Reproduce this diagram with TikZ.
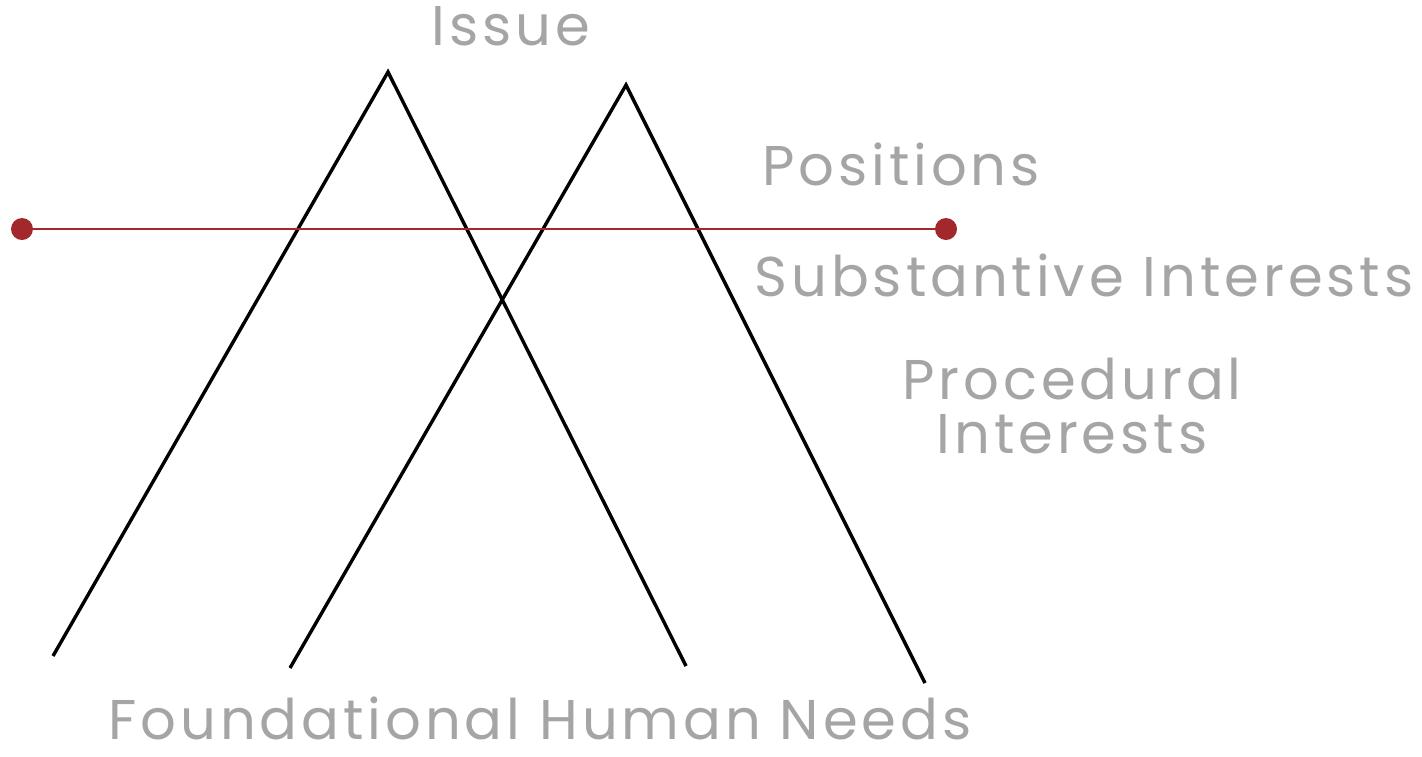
\documentclass[tikz,border=0pt]{standalone}
\usepackage{fontspec}
\setmainfont[LetterSpace=7]{Poppins}
\usetikzlibrary{positioning}
\definecolor{LevelGray}{HTML}{A5A5A5}
\definecolor{LineRed}{HTML}{A3282C}

\begin{document}
\begin{tikzpicture}[x=0.5pt, y=-0.5pt,
  level/.style={text=LevelGray, font=\fontsize{28}{32}\selectfont, anchor=base, inner sep=0pt},
  peak/.style={line width=1.7pt, black},
  knob/.style={circle, fill=LineRed, inner sep=0pt, minimum size=11pt}]
  \useasboundingbox (0,0) rectangle (1422,756);
  % the two overlapping cones
  \coordinate (apexA) at (388,72);
  \coordinate (footAl) at (53,656);
  \coordinate (footAr) at (686,666);
  \coordinate (apexB) at (626,85);
  \coordinate (footBl) at (290,668);
  \coordinate (footBr) at (925,683);
  \draw[peak] (footAl) -- (apexA) -- (footAr);
  \draw[peak] (footBl) -- (apexB) -- (footBr);
  % the red level line
  \node[knob] (knobL) at (22,229) {};
  \node[knob] (knobR) at (946,229) {};
  \draw[LineRed, line width=1pt] (knobL) -- (knobR);
  % labels
  \node[level] (issue) at (511,45) {Issue};
  \node[level] (positions) at (901,185) {Positions};
  \node[level] (substantive) at (1084,296) {Substantive Interests};
  \node[level] (procedural) at (1072,399) {Procedural};
  \node[level] (procedural2) at (1072,453) {Interests};
  \node[level] (needs) at (540,739) {Foundational Human Needs};
\end{tikzpicture}
\end{document}
